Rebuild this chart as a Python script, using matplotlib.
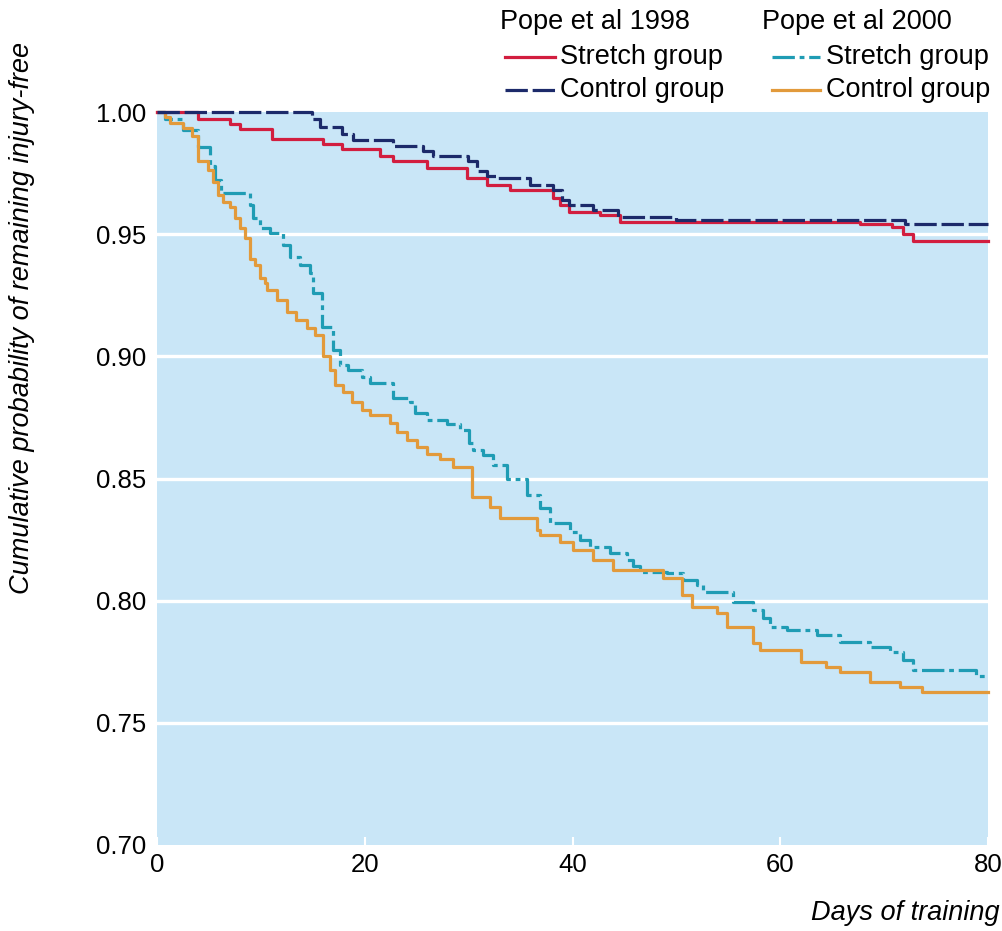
import matplotlib
matplotlib.use("Agg")
import matplotlib.pyplot as plt
from matplotlib.lines import Line2D

plt.rcParams['font.family'] = ['Liberation Sans Narrow', 'Liberation Sans', 'DejaVu Sans']

# ---- data (days of training, cumulative probability of remaining injury-free) ----
red_t = [0, 3.9, 7.0, 8.0, 11.1, 16.0, 17.8, 21.5, 22.7, 26.0, 29.8, 31.8, 34.0,
         38.1, 38.8, 39.7, 42.6, 44.6, 67.7, 70.8, 71.8, 72.8, 80]
red_v = [1.000, 0.997, 0.995, 0.993, 0.989, 0.987, 0.985, 0.982, 0.980, 0.977, 0.973,
         0.970, 0.968, 0.965, 0.962, 0.959, 0.958, 0.955, 0.954, 0.953, 0.950, 0.947, 0.947]

navy_t = [0, 14.9, 15.7, 17.8, 18.9, 22.7, 25.6, 26.6, 29.9, 30.8, 31.8, 32.7, 35.9,
          38.1, 39.0, 39.7, 42.0, 44.4, 50.0, 72.0, 80]
navy_v = [1.000, 0.997, 0.994, 0.991, 0.9885, 0.986, 0.984, 0.982, 0.980, 0.976, 0.974,
          0.973, 0.970, 0.968, 0.964, 0.962, 0.960, 0.957, 0.956, 0.954, 0.954]

teal_t = [0, 0.8, 2.5, 3.95, 5.1, 5.6, 6.2, 8.95, 9.24, 9.91, 10.88, 12.13, 12.80, 13.76,
          14.73, 15.04, 15.85, 16.97, 17.61, 18.41, 19.70, 20.50, 22.75, 24.35, 24.83,
          25.96, 27.88, 29.16, 30.0, 30.45, 31.41, 32.37, 33.66, 35.58, 36.86, 37.83,
          39.75, 40.71, 41.67, 43.60, 45.21, 45.84, 46.49, 49.06, 50.65, 51.94, 52.58,
          55.47, 57.39, 58.35, 59.00, 60.61, 63.49, 65.74, 68.62, 70.55, 71.83, 72.79,
          78.89, 80]
teal_v = [1.000, 0.997, 0.9926, 0.9858, 0.978, 0.972, 0.9667, 0.962, 0.9566, 0.9525,
          0.9505, 0.9456, 0.9408, 0.9374, 0.934, 0.9258, 0.9121, 0.9026, 0.8965, 0.8944,
          0.8917, 0.889, 0.8828, 0.8814, 0.8767, 0.874, 0.8722, 0.870, 0.8644, 0.8616,
          0.8596, 0.8555, 0.850, 0.8432, 0.8378, 0.8316, 0.8282, 0.8248, 0.8221, 0.8194,
          0.8166, 0.814, 0.8119, 0.8113, 0.8085, 0.8064, 0.8037, 0.7996, 0.7962, 0.7928,
          0.7894, 0.788, 0.786, 0.7832, 0.7812, 0.7791, 0.7757, 0.7716, 0.7692, 0.7692]

orange_t = [0, 0.77, 1.25, 2.53, 3.34, 3.95, 4.94, 5.42, 5.90, 6.38, 7.03, 7.51, 7.99,
            8.47, 8.95, 9.43, 9.91, 10.39, 10.55, 11.52, 12.48, 13.4, 14.41, 15.21, 16.01,
            16.65, 17.13, 17.93, 18.74, 19.70, 20.50, 22.43, 23.07, 24.03, 24.99, 25.96,
            27.24, 28.49, 30.29, 32.05, 33.01, 36.54, 36.86, 38.79, 40.07, 41.99, 43.92,
            48.73, 50.50, 51.46, 53.87, 54.83, 57.39, 58.04, 62.0, 64.45, 65.74, 68.62,
            71.51, 73.60, 80]
orange_v = [1.000, 0.998, 0.9954, 0.9933, 0.990, 0.980, 0.9763, 0.9715, 0.966, 0.9633,
            0.961, 0.9565, 0.9525, 0.9483, 0.940, 0.9374, 0.932, 0.930, 0.927, 0.923,
            0.918, 0.915, 0.9115, 0.9087, 0.900, 0.8944, 0.8883, 0.8855, 0.8814, 0.878,
            0.876, 0.8727, 0.8692, 0.8658, 0.863, 0.860, 0.858, 0.8548, 0.8425, 0.8384,
            0.8337, 0.829, 0.8269, 0.8241, 0.8207, 0.8166, 0.8125, 0.8093, 0.8023, 0.7975,
            0.7948, 0.7893, 0.7826, 0.7798, 0.775, 0.773, 0.7709, 0.7668, 0.7648, 0.7627,
            0.7627]

x_ticks = [0, 20, 40, 60, 80]
y_ticks = [0.70, 0.75, 0.80, 0.85, 0.90, 0.95, 1.00]
grid_levels = [0.75, 0.80, 0.85, 0.90, 0.95]

legend_titles = ["Pope et al 1998", "Pope et al 2000"]
legend_labels = ["Stretch group", "Control group"]

# ---- style ----
BG = '#C9E6F7'
RED = '#D21E3F'
NAVY = '#1C2A6A'
TEAL = '#1F9CB4'
ORANGE = '#E29A3B'
FS = 19.5
TFS = 18.5

fig = plt.figure(figsize=(10.02, 9.31), dpi=100)
ax = fig.add_axes([157/1002, 1-845/931, (988-157)/1002, (845-112)/931])
ax.set_facecolor(BG)
for s in ax.spines.values():
    s.set_visible(False)

for g in grid_levels:
    ax.axhline(g, color='white', lw=2.4, zorder=1)

lw = 2.3
ax.step(teal_t, teal_v, where='post', color=TEAL, lw=lw, dashes=(7, 1.5, 1.5, 1.5),
        zorder=3, clip_on=False)
ax.step(orange_t, orange_v, where='post', color=ORANGE, lw=lw, zorder=3, clip_on=False)
ax.step(red_t, red_v, where='post', color=RED, lw=lw, zorder=4, clip_on=False)
ax.step(navy_t, navy_v, where='post', color=NAVY, lw=lw, dashes=(7, 1.5),
        zorder=5, clip_on=False)

ax.set_xlim(0, 80)
ax.set_ylim(0.70, 1.00)
ax.set_xticks(x_ticks)
ax.set_xticklabels([str(v) for v in x_ticks], fontsize=TFS)
ax.set_yticks(y_ticks)
ax.set_yticklabels([f"{v:.2f}" for v in y_ticks], fontsize=TFS)
ax.tick_params(axis='y', length=0, pad=8)
ax.tick_params(axis='x', direction='in', length=6, width=1.5, color='white', pad=6)

fig.text(22/1002, 1-318/931, "Cumulative probability of remaining injury-free",
         rotation=90, ha='center', va='center', fontsize=FS, style='italic')
fig.text(1000/1002, 1-913/931, "Days of training", ha='right', va='center',
         fontsize=FS, style='italic')

# ---- legend ----
def leg_line(x0, x1, y, color, dashes=None):
    ln = Line2D([x0/1002, x1/1002], [1-y/931, 1-y/931], transform=fig.transFigure,
                color=color, lw=lw)
    if dashes:
        ln.set_dashes(dashes)
    fig.add_artist(ln)

fig.text(500/1002, 1-22/931, legend_titles[0], ha='left', va='center', fontsize=FS)
fig.text(762/1002, 1-22/931, legend_titles[1], ha='left', va='center', fontsize=FS)
leg_line(505, 555, 57, RED)
leg_line(505, 555, 90, NAVY, (7, 1.5))
leg_line(772, 820, 57, TEAL, (7, 1.5, 1.5, 1.5))
leg_line(772, 820, 90, ORANGE)
fig.text(560/1002, 1-57/931, legend_labels[0], ha='left', va='center', fontsize=FS)
fig.text(560/1002, 1-90/931, legend_labels[1], ha='left', va='center', fontsize=FS)
fig.text(826/1002, 1-57/931, legend_labels[0], ha='left', va='center', fontsize=FS)
fig.text(826/1002, 1-90/931, legend_labels[1], ha='left', va='center', fontsize=FS)

fig.savefig("out.png", dpi=100, facecolor='white')
